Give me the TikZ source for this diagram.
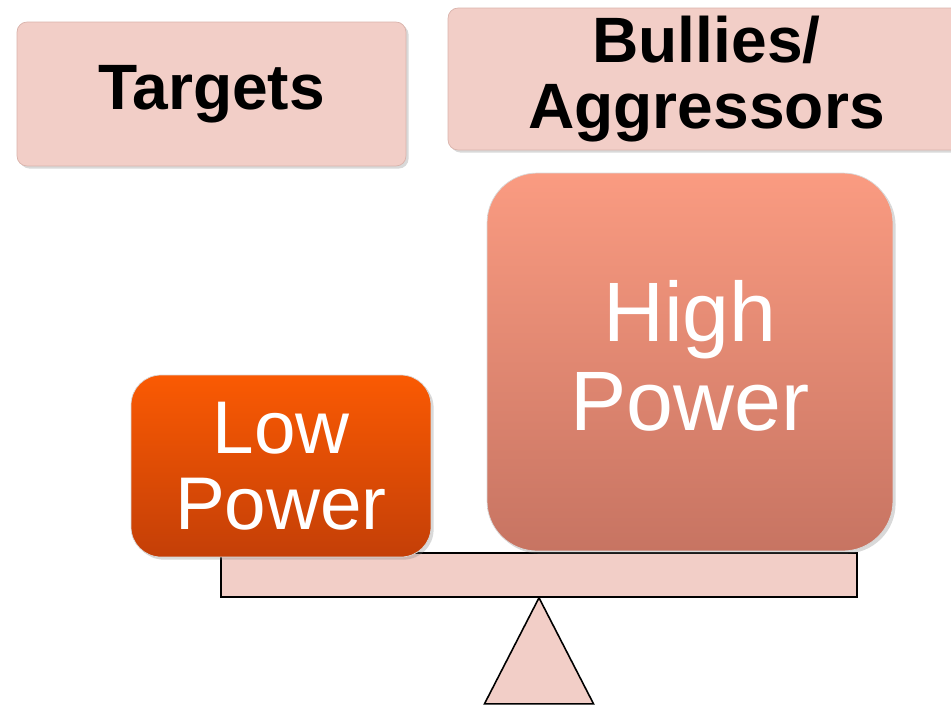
\documentclass[tikz,border=0pt]{standalone}
\usepackage{fontspec}
\setmainfont{Liberation Sans}
\usetikzlibrary{positioning,shadows}

\definecolor{lightpink}{HTML}{F2CEC7}
\definecolor{pinkedge}{HTML}{D9B3AB}
\definecolor{lowtop}{HTML}{FA5A03}
\definecolor{lowbottom}{HTML}{C43F07}
\definecolor{hightop}{HTML}{FA9B81}
\definecolor{highbottom}{HTML}{C77462}

\begin{document}
\begin{tikzpicture}[x=0.02cm, y=-0.02cm,
			% pale boxes with the group names
			labelbox/.style={rectangle, fill=lightpink, draw=pinkedge, rounded corners=0.2cm, inner sep=0pt, align=center,
				font=\bfseries\fontsize{36.5}{37.5}\selectfont, drop shadow={shadow xshift=1.5pt, shadow yshift=-1.5pt, opacity=0.3}},
			% shaded boxes standing on the beam
			powerbox/.style={rectangle, draw=white!70!gray, inner sep=0pt, align=center, text=white,
				drop shadow={shadow xshift=1.5pt, shadow yshift=-1.5pt, opacity=0.3}},
			% beam and fulcrum of the scale
			scalepart/.style={fill=lightpink, draw=black, line width=0.9pt}
		]
		\useasboundingbox (0,0) rectangle (951,708);

		%Nodes
		\node[labelbox, minimum width=7.78cm, minimum height=2.88cm]  (targets)  at (211.5,94)  {Targets};
		\node[labelbox, minimum width=10.34cm, minimum height=2.84cm] (bullies)  at (706.5,79)  {Bullies/\\Aggressors};
		\node[scalepart, rectangle, minimum width=12.72cm, minimum height=0.88cm, inner sep=0pt] (beam) at (539,575) {};
		\node[powerbox, rounded corners=1cm, top color=hightop, bottom color=highbottom, minimum width=8.12cm, minimum height=7.56cm,
			font=\fontsize{48}{50.6}\selectfont]   (high)  at (690,362)  {High\\Power\rule[-0.28cm]{0pt}{0pt}};
		\node[powerbox, rounded corners=0.6cm, top color=lowtop, bottom color=lowbottom, minimum width=6cm, minimum height=3.64cm,
			font=\fontsize{42.5}{43.5}\selectfont] (low)   at (281,466)  {Low\\Power};

		%Fulcrum
		\draw[scalepart, line join=miter] (beam.south) -- ++(-54.5,106) -- ++(109,0) -- cycle;
	\end{tikzpicture}
\end{document}
